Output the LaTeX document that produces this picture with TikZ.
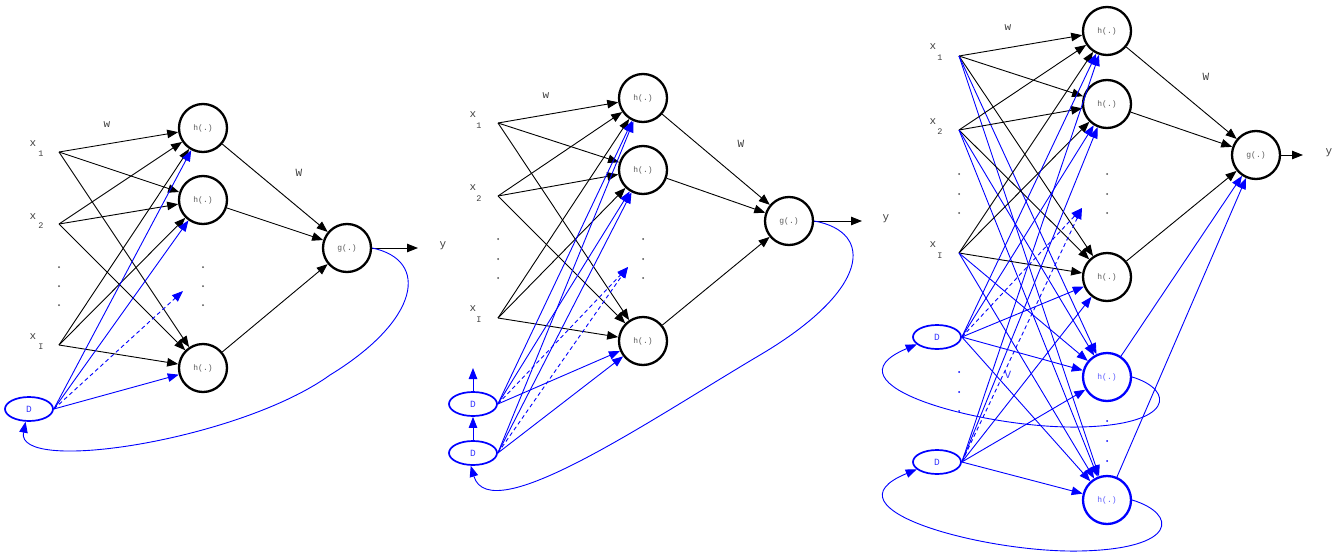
\documentclass[tikz,border=0pt]{standalone}
\usepackage{fontspec}
\newfontfamily\courfont{Liberation Mono}
\usetikzlibrary{arrows.meta,shapes.geometric}

\begin{document}
\begin{tikzpicture}[
    x=1pt, y=-1pt,
    hid/.style={circle, draw, line width=2.3pt, minimum size=48pt, inner sep=0pt, font=\courfont\fontsize{8}{8}\selectfont, text=black!65},
    rhid/.style={hid, draw=blue, text=blue!65},
    dly/.style={ellipse, draw=blue, line width=1.7pt, minimum width=48pt, minimum height=24pt, inner sep=0pt, font=\courfont\fontsize{9.5}{9.5}\selectfont, text=blue!80},
    lbl/.style={font=\courfont\fontsize{11}{11}\selectfont, text=black!75, inner sep=0pt},
    subl/.style={font=\courfont\fontsize{8.5}{8.5}\selectfont, text=black!75, inner sep=0pt},
    arr/.style={-{Triangle[length=11pt,width=8.5pt]}, line width=0.9pt},
    barr/.style={arr, blue},
    darr/.style={barr, dash pattern=on 4pt off 3pt}
]
\useasboundingbox (0,0) rectangle (1341,554);

\node[lbl] (p1x1) at (33,144) {x};
\node[subl] (p1s1) at (41,154) {1};
\coordinate (p1a1) at (59,152);
\node[lbl] (p1x2) at (33,217) {x};
\node[subl] (p1s2) at (41,226) {2};
\coordinate (p1a2) at (59,224);
\node[lbl] (p1x3) at (33,337) {x};
\node[subl] (p1s3) at (41,347) {I};
\coordinate (p1a3) at (59,345);
\node[hid] (p1h1) at (203,128) {h(.)};
\node[hid] (p1h2) at (203,200) {h(.)};
\node[hid] (p1h3) at (203,368) {h(.)};
\node[hid] (p1g) at (347,248) {g(.)};
\node[dly] (p1d1) at (29,409) {D};
\coordinate (p1dots) at (183,291);
\coordinate (p1out) at (418,248);
\node[lbl] (p1y) at (443,246) {y};
\node[lbl] (p1w) at (107,125) {w};
\node[lbl] (p1W) at (299,173) {W};
\foreach \yy in {267,286,305} {
  \fill[black!70] (59,\yy) circle (1pt);
  \fill[black!70] (203,\yy) circle (1pt);
}
\foreach \s in {1,2,3} \foreach \t in {1,2,3} \draw[arr] (p1a\s) -- (p1h\t);
\foreach \t in {1,2,3} \draw[arr] (p1h\t) -- (p1g);
\draw[arr] (p1g) -- (p1out);
\foreach \t in {1,2,3} \draw[barr] (p1d1.east) -- (p1h\t);
\draw[darr] (p1d1.east) -- (p1dots);
\draw[barr] (p1g.east) .. controls (430,260) and (420,320) .. (330,375) .. controls (240,440) and (15,475) .. (p1d1.255);

\node[lbl] (p2x1) at (473,115) {x};
\node[subl] (p2s1) at (479,126) {1};
\coordinate (p2a1) at (498,123);
\node[lbl] (p2x2) at (473,188) {x};
\node[subl] (p2s2) at (479,199) {2};
\coordinate (p2a2) at (498,196);
\node[lbl] (p2x3) at (473,309) {x};
\node[subl] (p2s3) at (479,320) {I};
\coordinate (p2a3) at (498,318);
\node[hid] (p2h1) at (643,98) {h(.)};
\node[hid] (p2h2) at (643,170) {h(.)};
\node[hid] (p2h3) at (643,341) {h(.)};
\node[hid] (p2g) at (789,221) {g(.)};
\node[dly] (p2d1) at (473,404) {D};
\node[dly] (p2d2) at (473,453) {D};
\coordinate (p2dots) at (628,267);
\coordinate (p2up) at (473,368);
\coordinate (p2out) at (862,221);
\node[lbl] (p2y) at (886,219) {y};
\node[lbl] (p2w) at (546,96) {w};
\node[lbl] (p2W) at (741,144) {W};
\foreach \yy in {239,259,278} {
  \fill[black!70] (498,\yy) circle (1pt);
  \fill[black!70] (643,\yy) circle (1pt);
}
\foreach \s in {1,2,3} \foreach \t in {1,2,3} \draw[arr] (p2a\s) -- (p2h\t);
\foreach \t in {1,2,3} \draw[arr] (p2h\t) -- (p2g);
\draw[arr] (p2g) -- (p2out);
\foreach \d in {1,2} {
  \foreach \t in {1,2,3} \draw[barr] (p2d\d.east) -- (p2h\t);
  \draw[darr] (p2d\d.east) -- (p2dots);
}
\draw[barr] (p2d2) -- (p2d1);
\draw[barr] (p2d1) -- (p2up);
\draw[barr] (p2g.east) .. controls (875,232) and (870,290) .. (760,355) .. controls (650,420) and (490,530) .. (p2d2.260);

\node[lbl] (p3x1) at (933,47) {x};
\node[subl] (p3s1) at (940,58) {1};
\coordinate (p3a1) at (959,56);
\node[lbl] (p3x2) at (933,122) {x};
\node[subl] (p3s2) at (940,132) {2};
\coordinate (p3a2) at (959,130);
\node[lbl] (p3x3) at (933,245) {x};
\node[subl] (p3s3) at (940,256) {I};
\coordinate (p3a3) at (959,253);
\node[hid] (p3h1) at (1107,31) {h(.)};
\node[hid] (p3h2) at (1107,104) {h(.)};
\node[hid] (p3h3) at (1107,277) {h(.)};
\node[rhid] (p3h4) at (1107,377) {h(.)};
\node[rhid] (p3h5) at (1107,500) {h(.)};
\node[hid] (p3g) at (1256,155) {g(.)};
\node[dly] (p3d1) at (937,337) {D};
\node[dly] (p3d2) at (937,462) {D};
\coordinate (p3dots) at (1082,208);
\coordinate (p3out) at (1303,155);
\node[lbl] (p3y) at (1329,153) {y};
\node[lbl] (p3w) at (1008,28) {w};
\node[lbl] (p3W) at (1206,77) {W};
\node[lbl, text=blue!80] (p3V) at (1008,375) {V};
\foreach \yy in {174,194,213} {
  \fill[black!70] (959,\yy) circle (1pt);
  \fill[black!70] (1107,\yy) circle (1pt);
}
\foreach \yy in {372,392,411} \fill[blue] (959,\yy) circle (1pt);
\foreach \yy in {421,441,461} \fill[blue] (1107,\yy) circle (1pt);
\foreach \s in {1,2,3} {
  \foreach \t in {1,2,3} \draw[arr] (p3a\s) -- (p3h\t);
  \foreach \t in {4,5} \draw[barr] (p3a\s) -- (p3h\t);
}
\foreach \d in {1,2} {
  \foreach \t in {1,...,5} \draw[barr] (p3d\d.east) -- (p3h\t);
  \draw[darr] (p3d\d.east) -- (p3dots);
}
\foreach \t in {1,2,3} \draw[arr] (p3h\t) -- (p3g);
\foreach \t in {4,5} \draw[barr] (p3h\t) -- (p3g);
\draw[arr] (p3g) -- (p3out);
\draw[barr] (p3h4.east) .. controls (1175,390) and (1175,425) .. (1080,427) .. controls (985,429) and (820,385) .. (p3d1.200);
\draw[barr] (p3h5.east) .. controls (1178,514) and (1178,549) .. (1080,551) .. controls (985,553) and (820,509) .. (p3d2.200);
\end{tikzpicture}
\end{document}
